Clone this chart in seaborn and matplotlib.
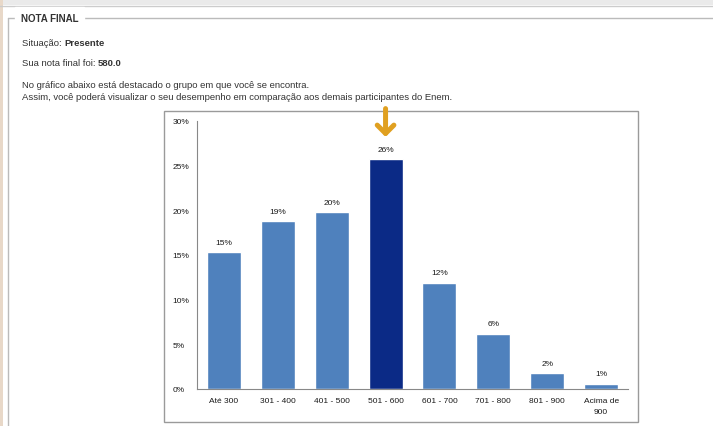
import matplotlib
matplotlib.use("Agg")
import matplotlib.pyplot as plt
import seaborn as sns
from matplotlib.patches import Rectangle
from matplotlib.lines import Line2D

# dados do gráfico
faixas = ["Até 300", "301 - 400", "401 - 500", "501 - 600",
          "601 - 700", "701 - 800", "801 - 900", "Acima de\n900"]
percentuais = [15.3, 18.8, 19.8, 25.7, 11.9, 6.2, 1.8, 0.6]
rotulos = ["15%", "19%", "20%", "26%", "12%", "6%", "2%", "1%"]
faixa_destaque = "501 - 600"

sns.set_style("white")
plt.rcParams["font.family"] = ["Liberation Sans", "DejaVu Sans"]

W, H = 713, 427
fig = plt.figure(figsize=(W / 100, H / 100), dpi=100)
fig.patch.set_facecolor("white")
renderer = fig.canvas.get_renderer()


def fx(x):
    return x / W


def fy(y):
    return 1 - y / H


# moldura da página (faixa superior, fieldset)
fig.add_artist(Rectangle((0, fy(6)), 1, 6 / H, transform=fig.transFigure,
                         facecolor="#eaeaea", edgecolor="none", zorder=-5))
fig.add_artist(Line2D([0, 1], [fy(7), fy(7)], transform=fig.transFigure,
                      color="#cccccc", lw=1, zorder=-4))
fig.add_artist(Rectangle((0, 0), fx(3), 1, transform=fig.transFigure,
                         facecolor="#e8d8c8", edgecolor="none", zorder=-5))
fig.add_artist(Line2D([fx(8), 1], [fy(19), fy(19)], transform=fig.transFigure,
                      color="#bbbbbb", lw=1, zorder=-4))
fig.add_artist(Line2D([fx(8), fx(8)], [fy(19), 0], transform=fig.transFigure,
                      color="#bbbbbb", lw=1, zorder=-4))
fig.text(fx(21), fy(19), "NOTA FINAL", fontsize=7, fontweight="bold", color="#333333",
         va="center", ha="left", backgroundcolor="white")

# textos
TAM = 6.8


def linha(x, y, partes):
    # escreve partes (texto, negrito) lado a lado
    for s, negrito in partes:
        t = fig.text(fx(x), fy(y), s, fontsize=TAM, color="#333333", va="center", ha="left",
                     fontweight="bold" if negrito else "normal")
        x += t.get_window_extent(renderer).width


linha(22, 44, [("Situação: ", False), ("Presente", True)])
linha(22, 64, [("Sua nota final foi: ", False), ("580.0", True)])
linha(22, 86, [("No gráfico abaixo está destacado o grupo em que você se encontra.", False)])
linha(22, 97, [("Assim, você poderá visualizar o seu desempenho em comparação aos demais participantes do Enem.", False)])

# caixa do gráfico
fig.add_artist(Rectangle((fx(164), fy(423)), fx(638) - fx(164), fy(112) - fy(423),
                         transform=fig.transFigure, facecolor="white",
                         edgecolor="#9a9a9a", lw=1, zorder=-3))

ax = fig.add_axes([fx(197), fy(390), fx(628) - fx(197), fy(122) - fy(390)])
ax.set_facecolor("none")

cores = ["#0b2a86" if f == faixa_destaque else "#4f81bd" for f in faixas]
sns.barplot(x=faixas, y=percentuais, hue=faixas, palette=cores, legend=False,
            width=0.63, saturation=1, ax=ax)

for i, (v, r) in enumerate(zip(percentuais, rotulos)):
    ax.text(i, v + 0.7, r, ha="center", va="bottom", fontsize=6, color="#1a1a1a")

# seta destacando o grupo
i_dest = faixas.index(faixa_destaque)
ax.annotate("", xy=(i_dest, 27.9), xytext=(i_dest, 31.7),
            arrowprops=dict(arrowstyle="->,head_length=0.6,head_width=0.6",
                            color="#e0a020", lw=3.6),
            annotation_clip=False)

ax.set_ylim(0, 30)
ax.set_xlim(-0.5, len(faixas) - 0.5)
ax.set_yticks(range(0, 31, 5))
ax.set_yticklabels([f"{t}%" for t in range(0, 31, 5)], fontsize=6, color="#1a1a1a")
ax.set_xticks(range(len(faixas)))
ax.set_xticklabels(faixas, fontsize=6, color="#1a1a1a", linespacing=1.7)
ax.set_xlabel("")
ax.set_ylabel("")
ax.tick_params(axis="x", length=0, pad=6)
ax.tick_params(axis="y", length=2.5, width=0.8, color="#888888", direction="out", pad=15)
for t in ax.get_yticklabels():
    t.set_horizontalalignment("left")
ax.set_xticks([i - 0.5 for i in range(len(faixas) + 1)], minor=True)
ax.tick_params(axis="x", which="minor", length=2.5, width=0.8, color="#888888", direction="out")

for s in ["top", "right"]:
    ax.spines[s].set_visible(False)
for s in ["left", "bottom"]:
    ax.spines[s].set_color("#888888")
    ax.spines[s].set_linewidth(0.8)

fig.savefig("out.png", dpi=100, facecolor="white")
